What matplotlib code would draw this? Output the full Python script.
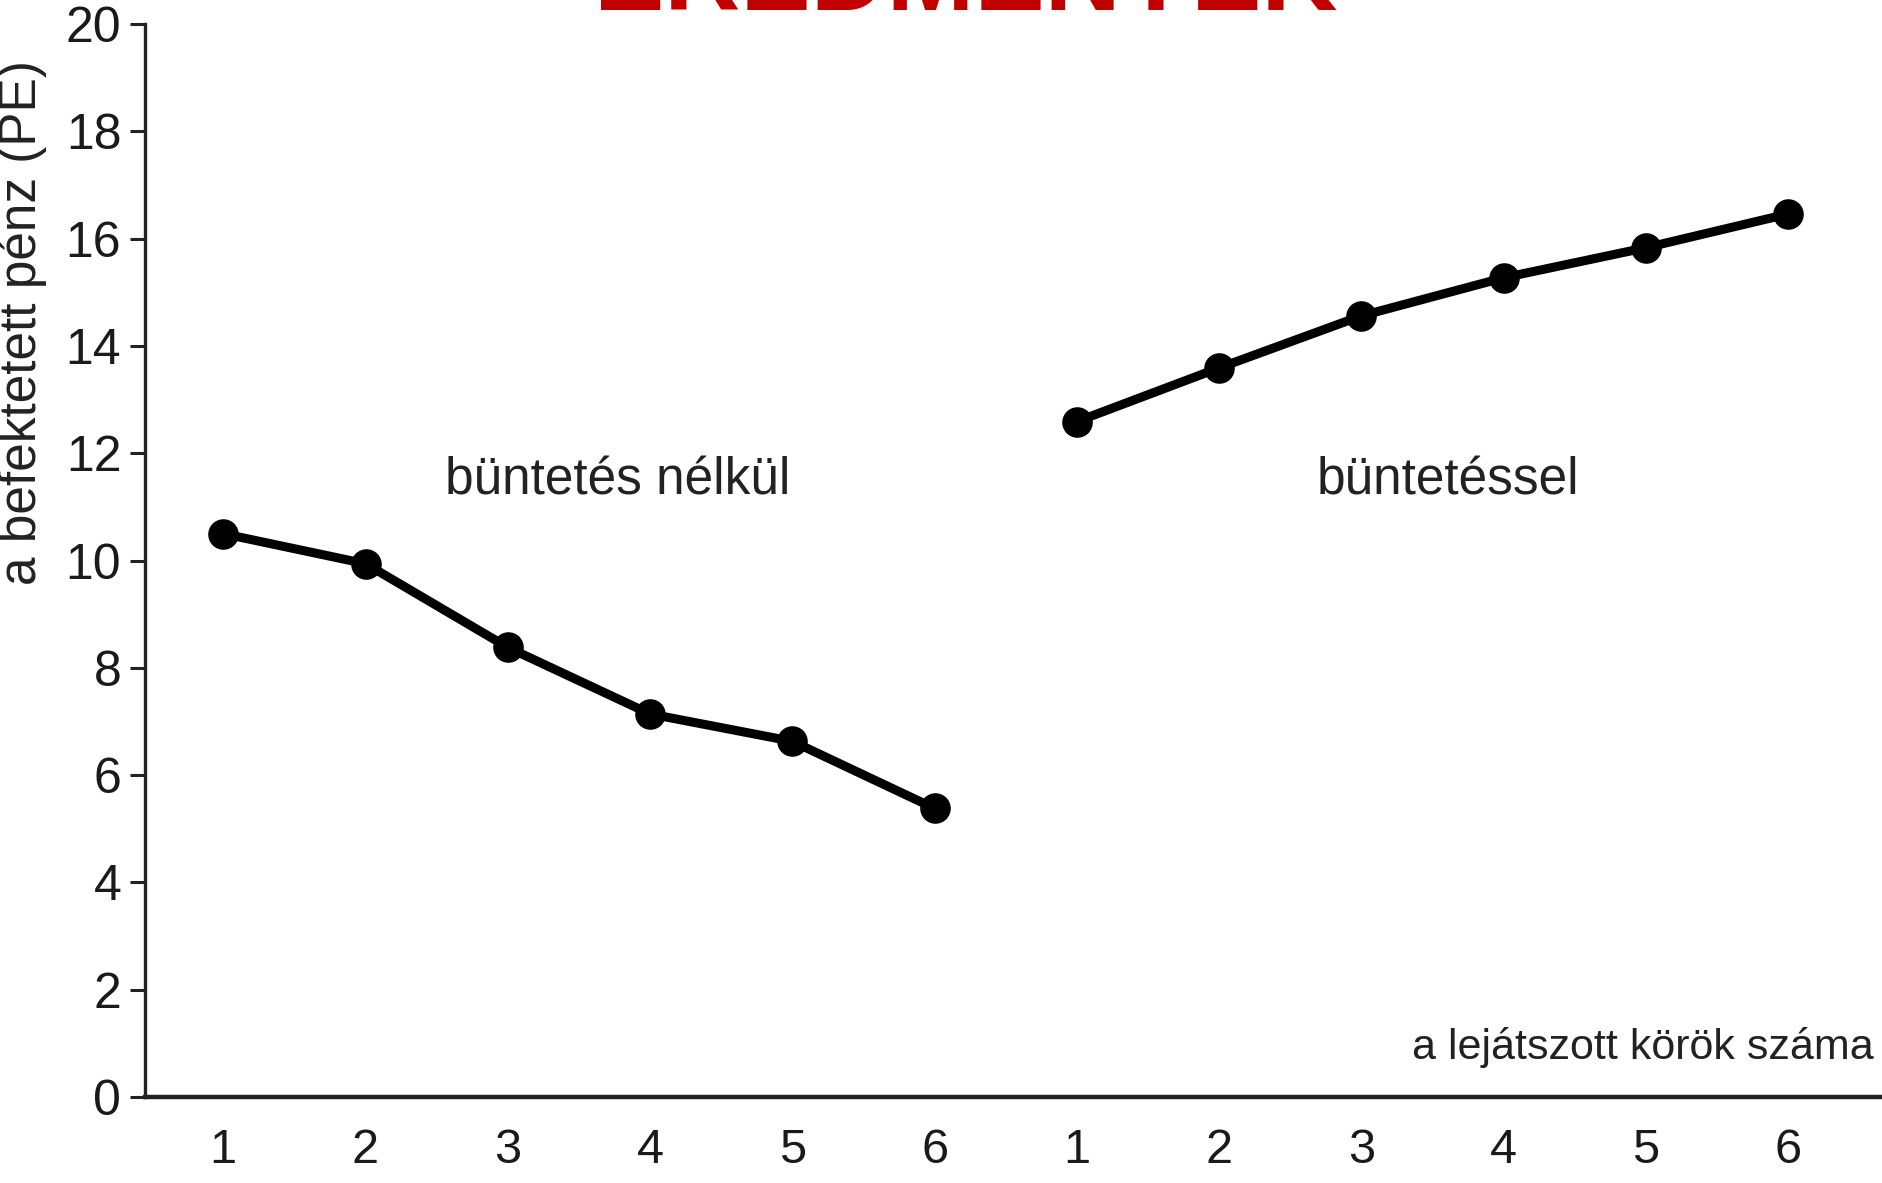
import matplotlib
matplotlib.use("Agg")
import matplotlib.pyplot as plt

plt.rcParams['font.family'] = ['Liberation Sans', 'DejaVu Sans']

# data
rounds = [1, 2, 3, 4, 5, 6]
no_punish = [10.5, 9.94, 8.38, 7.14, 6.63, 5.38]
with_punish = [12.59, 13.59, 14.56, 15.27, 15.83, 16.46]
y_ticks = [0, 2, 4, 6, 8, 10, 12, 14, 16, 18, 20]
title = "EREDMÉNYEK"
ylabel = "a befektetett pénz (PE)"
xlabel = "a lejátszott körök száma"
label_no = "büntetés nélkül"
label_with = "büntetéssel"

fig = plt.figure(figsize=(18.82, 11.83), dpi=100)
ax = fig.add_axes([0.077, 0.0727, 0.923, 0.907])

x1 = list(range(1, 7))
x2 = list(range(7, 13))
ax.plot(x1, no_punish, color='black', lw=6.5, marker='o', markersize=21, clip_on=False)
ax.plot(x2, with_punish, color='black', lw=6.5, marker='o', markersize=21, clip_on=False)

ax.set_xlim(0.449, 12.66)
ax.set_ylim(0, 20)
ax.set_yticks(y_ticks)
ax.set_yticklabels([str(v) for v in y_ticks], fontsize=36, color='#1a1a1a')
ax.set_xticks(x1 + x2)
ax.set_xticklabels([str(r) for r in rounds + rounds], fontsize=35, color='#1a1a1a')
ax.tick_params(axis='x', length=0, pad=22)
ax.tick_params(axis='y', length=11, width=2.2, pad=6, color='#222222')

for s in ['top', 'right']:
    ax.spines[s].set_visible(False)
ax.spines['left'].set_linewidth(2.4)
ax.spines['left'].set_color('#222222')
ax.spines['bottom'].set_linewidth(3.2)
ax.spines['bottom'].set_color('#222222')

ax.text(3.77, 11.49, label_no, fontsize=37, ha='center', va='center', color='#222222')
ax.text(9.61, 11.49, label_with, fontsize=37, ha='center', va='center', color='#222222')
ax.text(12.6, 0.92, xlabel, fontsize=31, ha='right', va='center', color='#222222')

fig.text(0.0117, 0.727, ylabel, rotation=90, fontsize=37, ha='center', va='center', color='#222222')
fig.text(0.513, 0.9915, title, fontsize=76, fontweight='bold', color='#c00000',
         ha='center', va='baseline')

fig.savefig('out.png', dpi=100)
